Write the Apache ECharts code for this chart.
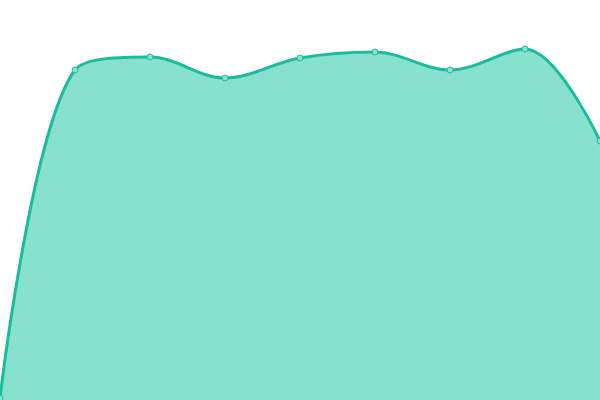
<!DOCTYPE html>
<html>
<head>
<meta charset="utf-8">
<script src="https://cdn.jsdelivr.net/npm/echarts@6/dist/echarts.min.js"></script>
<style>
html, body { margin: 0; padding: 0; background: #fff; }
#chart { width: 600px; height: 400px; }
</style>
</head>
<body>
<div id="chart"></div>
<script>
var categories = ['1', '2', '3', '4', '5', '6', '7', '8', '9'];
var values = [2, 330, 343, 322, 342, 348, 330, 351, 259];

var chart = echarts.init(document.getElementById('chart'));
var option = {
	animation: false,
	grid: { left: 0, right: 0, top: 0, bottom: 0 },
	xAxis: {
		type: 'category',
		boundaryGap: false,
		data: categories,
		show: false
	},
	yAxis: {
		type: 'value',
		min: 0,
		max: 400,
		show: false
	},
	series: [{
		type: 'line',
		smooth: 0.35,
		data: values,
		symbol: 'circle',
		symbolSize: 6,
		lineStyle: { color: '#1abc9c', width: 3 },
		itemStyle: { color: '#88e0ce', borderColor: '#1abc9c', borderWidth: 1 },
		areaStyle: { color: '#88e0ce', opacity: 1 }
	}]
};
chart.setOption(option);
</script>
</body>
</html>
